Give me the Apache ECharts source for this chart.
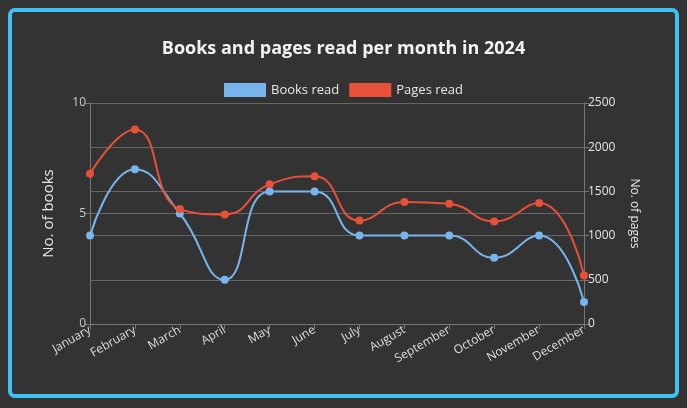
<!DOCTYPE html>
<html>
<head>
<meta charset="utf-8">
<script src="https://cdn.jsdelivr.net/npm/echarts@6/dist/echarts.min.js"></script>
<style>
  html, body { margin: 0; padding: 0; background: #333333; }
  #main { width: 687px; height: 408px; }
  #frame {
    position: absolute; left: 8px; top: 8px; width: 671px; height: 390px;
    box-sizing: border-box; border: 4px solid #3ec1f3; border-radius: 7px;
    pointer-events: none;
  }
</style>
</head>
<body>
<div id="main"></div>
<div id="frame"></div>
<script type="text/javascript">
// 数据
var months = ['January', 'February', 'March', 'April', 'May', 'June',
              'July', 'August', 'September', 'October', 'November', 'December'];
var booksRead = [4, 7, 5, 2, 6, 6, 4, 4, 4, 3, 4, 1];
var pagesRead = [1700, 2200, 1300, 1240, 1580, 1670, 1170, 1380, 1360, 1160, 1370, 550];

var font = 'Open Sans';
var myChart = echarts.init(document.getElementById('main'));
var option = {
    backgroundColor: '#333333',
    animation: false,
    textStyle: { fontFamily: font },
    title: {
        text: 'Books and pages read per month in 2024',
        left: 'center',
        top: 35,
        textStyle: { color: '#f2f2f2', fontSize: 18, fontWeight: 'bold', fontFamily: font }
    },
    legend: {
        top: 78,
        left: 'center',
        itemWidth: 42,
        itemHeight: 14,
        itemGap: 10,
        icon: 'rect',
        textStyle: { color: '#e6e6e6', fontSize: 13, fontFamily: font },
        data: ['Books read', 'Pages read']
    },
    grid: { left: 90, right: 103, top: 103, bottom: 84 },
    xAxis: {
        type: 'category',
        boundaryGap: false,
        data: months,
        axisLine: { lineStyle: { color: '#777777' } },
        axisTick: { show: true, length: 5, lineStyle: { color: '#777777' } },
        axisLabel: { color: '#dddddd', fontSize: 12, rotate: 30, margin: 5, interval: 0, fontFamily: font },
        splitLine: { show: false }
    },
    yAxis: [{
        type: 'value',
        name: 'No. of books',
        nameLocation: 'middle',
        nameGap: 34,
        nameTextStyle: { color: '#e6e6e6', fontSize: 15, fontFamily: font },
        min: 0, max: 10, interval: 5,
        axisLine: { show: true, lineStyle: { color: '#777777' } },
        axisTick: { show: true, length: 5, lineStyle: { color: '#777777' } },
        axisLabel: { color: '#cccccc', fontSize: 12, margin: 4, fontFamily: font },
        splitLine: { lineStyle: { color: '#666666' } }
    }, {
        type: 'value',
        name: 'No. of pages',
        nameLocation: 'middle',
        nameGap: 44,
        nameRotate: -90,
        nameTextStyle: { color: '#e6e6e6', fontSize: 12, fontFamily: font },
        min: 0, max: 2500, interval: 500,
        axisLine: { show: true, lineStyle: { color: '#777777' } },
        axisTick: { show: true, length: 5, lineStyle: { color: '#777777' } },
        axisLabel: {
            color: '#e6e6e6', fontSize: 12, margin: 4, fontFamily: font,
            formatter: function (v) { return String(v); }
        },
        splitLine: { lineStyle: { color: '#666666' } }
    }],
    series: [{
        name: 'Books read',
        type: 'line',
        yAxisIndex: 0,
        smooth: 0.5,
        symbol: 'circle',
        symbolSize: 8,
        itemStyle: { color: '#78b5ec' },
        lineStyle: { width: 2, color: '#78b5ec' },
        data: booksRead
    }, {
        name: 'Pages read',
        type: 'line',
        yAxisIndex: 1,
        smooth: 0.5,
        symbol: 'circle',
        symbolSize: 8,
        itemStyle: { color: '#e8503a' },
        lineStyle: { width: 2, color: '#e8503a' },
        data: pagesRead
    }]
};
myChart.setOption(option);
</script>
</body>
</html>
